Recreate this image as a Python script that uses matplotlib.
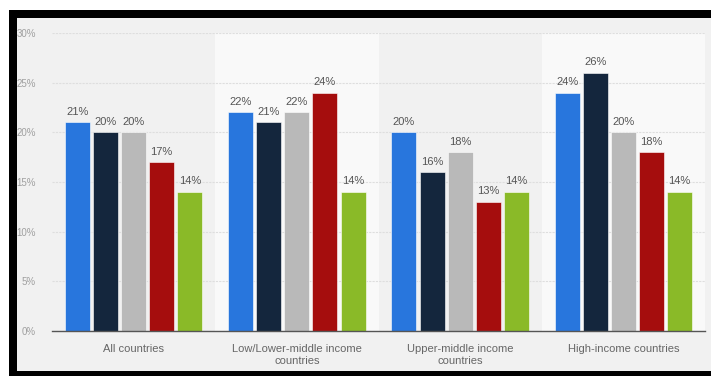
import matplotlib.pyplot as plt
from matplotlib.patches import Rectangle
import numpy as np

# Dados
grupos = ["All countries", "Low/Lower-middle income\ncountries",
          "Upper-middle income\ncountries", "High-income countries"]
serie_1 = [21, 22, 20, 24]
serie_2 = [20, 21, 16, 26]
serie_3 = [20, 22, 18, 20]
serie_4 = [17, 24, 13, 18]
serie_5 = [14, 14, 14, 14]
series = [serie_1, serie_2, serie_3, serie_4, serie_5]
cores = ["#2876dd", "#14263d", "#b9b9b9", "#a50d0d", "#8aba28"]
yticks = [0, 5, 10, 15, 20, 25, 30]

plt.rcParams['font.family'] = ['Liberation Sans', 'DejaVu Sans']

W, H = 711, 376
fig = plt.figure(figsize=(W / 100, H / 100), dpi=100)
fig.patch.set_facecolor("white")

# Moldura preta e fundo cinza
fig.add_artist(Rectangle((9 / W, 0), 1, (H - 10) / H, transform=fig.transFigure,
                         facecolor="black", edgecolor="none", zorder=-10))
fig.add_artist(Rectangle((17 / W, 5 / H), 1, (371 - 18) / H, transform=fig.transFigure,
                         facecolor="#f1f1f1", edgecolor="none", zorder=-9))

ax = fig.add_axes([52 / W, (H - 331) / H, (705 - 52) / W, (331 - 33) / H])
ax.set_facecolor("none")

x = np.arange(len(grupos))
passo = 0.172
largura = 0.153

# Faixas claras alternadas
for i in x:
    if i % 2 == 1:
        ax.axvspan(i - 0.5, i + 0.5, ymin=0, ymax=1, color="#f9f9f9", zorder=0, lw=0)

for k, (vals, cor) in enumerate(zip(series, cores)):
    pos = x + (k - 2) * passo
    barras = ax.bar(pos, vals, width=largura, color=cor, edgecolor="white",
                    linewidth=0.4, zorder=3)
    for b, v in zip(barras, vals):
        ax.annotate(f"{v}%", (b.get_x() + b.get_width() / 2, v), xytext=(0, 4),
                    textcoords="offset points", ha="center", va="bottom",
                    fontsize=8, color="#555555")

ax.set_xlim(-0.5, len(grupos) - 0.5)
ax.set_ylim(0, 30)
ax.set_yticks(yticks)
ax.set_yticklabels([f"{t}%" for t in yticks])
ax.set_xticks(x)
ax.set_xticklabels(grupos, linespacing=1.35)
ax.tick_params(axis="y", length=0, pad=11.5, labelsize=7, labelcolor="#a0a0a0")
ax.tick_params(axis="x", length=0, pad=9, labelsize=8, labelcolor="#666666")
ax.yaxis.grid(True, color="#dedede", linestyle=(0, (2, 1)), linewidth=0.8, zorder=1)
ax.set_axisbelow(True)
for lado in ["top", "right", "left"]:
    ax.spines[lado].set_visible(False)
ax.spines["bottom"].set_color("#555555")
ax.spines["bottom"].set_linewidth(1.0)
ax.spines["bottom"].set_zorder(4)

fig.savefig("out.png", dpi=100)
